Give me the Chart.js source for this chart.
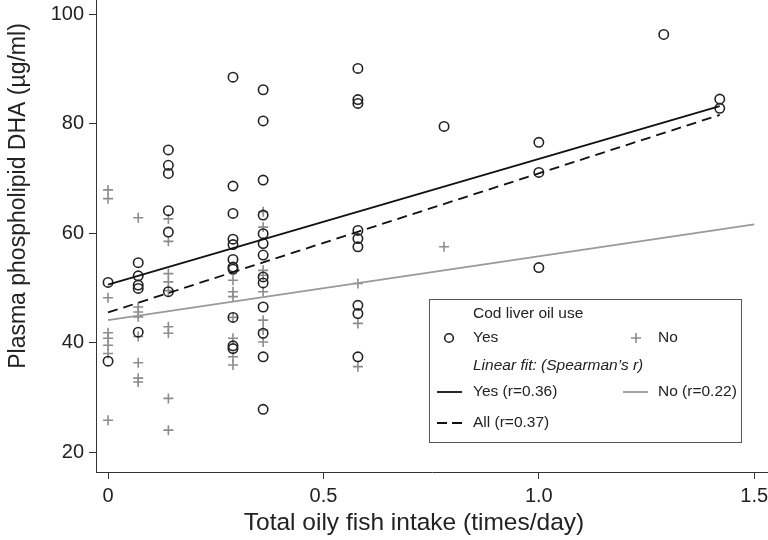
<!DOCTYPE html>
<html>
<head>
<meta charset="utf-8">
<script src="https://cdn.jsdelivr.net/npm/chart.js@4/dist/chart.umd.min.js"></script>
<style>
  html, body { margin: 0; padding: 0; background: #fff; }
  #wrap { width: 768px; height: 540px; position: relative; }
</style>
</head>
<body>
<div id="wrap"><canvas id="c" width="768" height="540"></canvas></div>
<script>
// ---- data ----
const xTicks = [0, 0.5, 1.0, 1.5];
const xTickLabels = ['0', '0.5', '1.0', '1.5'];
const yTicks = [20, 40, 60, 80, 100];
const yTickLabels = ['20', '40', '60', '80', '100'];

const xTitle = 'Total oily fish intake (times/day)';
const yTitle = 'Plasma phospholipid DHA (\u00b5g/ml)';

// Cod liver oil use: Yes (circles)
const yesX = [0, 0,
  0.07, 0.07, 0.07, 0.07, 0.07,
  0.14, 0.14, 0.14, 0.14, 0.14, 0.14,
  0.29, 0.29, 0.29, 0.29, 0.29, 0.29, 0.29, 0.29, 0.29, 0.29, 0.29,
  0.36, 0.36, 0.36, 0.36, 0.36, 0.36, 0.36, 0.36, 0.36, 0.36, 0.36, 0.36, 0.36,
  0.58, 0.58, 0.58, 0.58, 0.58, 0.58, 0.58, 0.58, 0.58,
  0.78,
  1.0, 1.0, 1.0,
  1.29,
  1.42, 1.42];
const yesY = [51.0, 36.6,
  54.6, 52.2, 50.5, 49.9, 41.9,
  75.2, 72.4, 70.9, 64.1, 60.2, 49.3,
  88.5, 68.6, 63.6, 58.9, 57.9, 55.2, 53.8, 53.4, 44.6, 39.4, 38.9,
  86.2, 80.5, 69.7, 63.3, 59.9, 58.1, 56.0, 52.0, 50.9, 46.5, 41.7, 37.4, 27.8,
  90.1, 84.4, 83.7, 60.5, 59.0, 57.5, 46.8, 45.3, 37.4,
  79.5,
  76.6, 71.1, 53.7,
  96.3,
  84.5, 82.8];

// Cod liver oil use: No (plus signs)
const noX = [0, 0, 0, 0, 0, 0, 0, 0,
  0.07, 0.07, 0.07, 0.07, 0.07, 0.07, 0.07, 0.07,
  0.14, 0.14, 0.14, 0.14, 0.14, 0.14, 0.14, 0.14, 0.14,
  0.29, 0.29, 0.29, 0.29, 0.29, 0.29, 0.29,
  0.36, 0.36, 0.36, 0.36, 0.36, 0.36, 0.36, 0.36,
  0.58, 0.58, 0.58,
  0.78];
const noY = [67.9, 66.3, 48.2, 41.8, 40.8, 39.5, 38.0, 25.8,
  62.8, 46.5, 45.6, 44.7, 41.1, 36.3, 33.5, 32.8,
  62.6, 58.5, 52.6, 51.1, 49.5, 42.9, 41.7, 29.8, 24.0,
  51.4, 49.3, 48.4, 44.6, 40.8, 37.4, 35.9,
  63.9, 61.1, 53.2, 52.3, 49.3, 44.1, 42.3, 40.1,
  50.8, 43.5, 35.6,
  57.5];

// Linear fit end points
const fitYesX = [0, 1.42];
const fitYesY = [50.6, 83.2];
const fitNoX = [0, 1.5];
const fitNoY = [44.1, 61.6];
const fitAllX = [0, 1.42];
const fitAllY = [45.5, 81.6];

const legendTitle = 'Cod liver oil use';
const legendFitTitle = 'Linear fit: (Spearman\u2019s r)';
const legendYes = 'Yes';
const legendNo = 'No';
const legendFitYes = 'Yes (r=0.36)';
const legendFitNo = 'No (r=0.22)';
const legendFitAll = 'All (r=0.37)';

// ---- build ----
const pts = (xs, ys) => xs.map((x, i) => ({ x: x, y: ys[i] }));
const FONT = '"Liberation Sans", Arial, Helvetica, sans-serif';
const GREY = '#8c8c8c';
const AXIS = '#333333';

const textPlugin = {
  id: 'textPlugin',
  afterDraw(chart) {
    const ctx = chart.ctx;
    ctx.save();
    ctx.fillStyle = '#222';
    // axis titles
    ctx.textAlign = 'center';
    ctx.textBaseline = 'middle';
    ctx.font = '24.5px ' + FONT;
    ctx.fillText(xTitle, 414, 523);
    ctx.font = '23px ' + FONT;
    ctx.save();
    ctx.translate(19, 196);
    ctx.rotate(-Math.PI / 2);
    ctx.fillText(yTitle, 0, 0);
    ctx.restore();

    // legend box
    const bx = 429, by = 299, bw = 312, bh = 143;
    ctx.fillStyle = '#fff';
    ctx.fillRect(bx, by, bw, bh);
    ctx.strokeStyle = '#555';
    ctx.lineWidth = 1;
    ctx.strokeRect(bx + 0.5, by + 0.5, bw, bh);

    ctx.fillStyle = '#222';
    ctx.textAlign = 'left';
    ctx.textBaseline = 'middle';
    ctx.font = '15.5px ' + FONT;
    const tx = 473;
    const r1 = 314, r2 = 338, r3 = 366, r4 = 392, r5 = 423;
    ctx.fillText(legendTitle, tx, r1);
    // symbols row
    ctx.beginPath();
    ctx.strokeStyle = '#222';
    ctx.lineWidth = 1.6;
    ctx.arc(449, r2, 4.3, 0, Math.PI * 2);
    ctx.stroke();
    ctx.fillText(legendYes, tx, r2);
    ctx.beginPath();
    ctx.strokeStyle = GREY;
    ctx.moveTo(631, r2); ctx.lineTo(641, r2);
    ctx.moveTo(636, r2 - 5); ctx.lineTo(636, r2 + 5);
    ctx.stroke();
    ctx.fillText(legendNo, 658, r2);
    // fit title (italic)
    ctx.font = 'italic 15.5px ' + FONT;
    ctx.fillText(legendFitTitle, tx, r3);
    ctx.font = '15.5px ' + FONT;
    // fit yes
    ctx.beginPath();
    ctx.strokeStyle = '#111';
    ctx.lineWidth = 1.8;
    ctx.moveTo(437, r4); ctx.lineTo(462, r4);
    ctx.stroke();
    ctx.fillText(legendFitYes, tx, r4);
    // fit no
    ctx.beginPath();
    ctx.strokeStyle = '#999';
    ctx.moveTo(623, r4); ctx.lineTo(648, r4);
    ctx.stroke();
    ctx.fillText(legendFitNo, 658, r4);
    // fit all (dashed)
    ctx.beginPath();
    ctx.strokeStyle = '#111';
    ctx.setLineDash([10, 5]);
    ctx.moveTo(437, r5); ctx.lineTo(463, r5);
    ctx.stroke();
    ctx.setLineDash([]);
    ctx.fillText(legendFitAll, tx, r5);
    ctx.restore();
  }
};

const zeroPad = (s) => { s.paddingLeft = 0; s.paddingRight = 0; s.paddingTop = 0; s.paddingBottom = 0; };

new Chart(document.getElementById('c'), {
  type: 'scatter',
  data: {
    datasets: [
      {
        label: 'No', data: pts(noX, noY), pointStyle: 'cross',
        pointRadius: 5, borderColor: GREY, borderWidth: 1.6,
        backgroundColor: GREY, pointHoverRadius: 5, order: 3
      },
      {
        label: 'Yes', data: pts(yesX, yesY), pointStyle: 'circle',
        pointRadius: 4.7, borderColor: '#222', borderWidth: 1.6,
        backgroundColor: 'rgba(0,0,0,0)', pointHoverRadius: 4.7, order: 2
      },
      {
        type: 'line', label: 'Yes (r=0.36)', data: pts(fitYesX, fitYesY),
        borderColor: '#111', borderWidth: 1.8, pointRadius: 0, fill: false, order: 1
      },
      {
        type: 'line', label: 'No (r=0.22)', data: pts(fitNoX, fitNoY),
        borderColor: '#999', borderWidth: 1.8, pointRadius: 0, fill: false, order: 1
      },
      {
        type: 'line', label: 'All (r=0.37)', data: pts(fitAllX, fitAllY),
        borderColor: '#111', borderWidth: 1.8, borderDash: [10, 6],
        pointRadius: 0, fill: false, order: 1
      }
    ]
  },
  options: {
    responsive: false,
    animation: false,
    devicePixelRatio: 1,
    layout: { padding: 0, autoPadding: false },
    plugins: { legend: { display: false }, tooltip: { enabled: false } },
    scales: {
      x: {
        type: 'linear', min: -0.028, max: 1.532,
        afterBuildTicks: (s) => { s.ticks = xTicks.map(v => ({ value: v })); },
        afterFit: (s) => { s.height = 68; zeroPad(s); },
        ticks: {
          autoSkip: false, maxRotation: 0, padding: 5,
          color: '#222', font: { family: FONT, size: 20 },
          callback: (v) => xTickLabels[xTicks.indexOf(v)]
        },
        grid: { drawOnChartArea: false, tickLength: 7, color: AXIS, tickWidth: 1 },
        border: { display: true, color: AXIS, width: 1 }
      },
      y: {
        type: 'linear', min: 16.35, max: 102.6,
        afterBuildTicks: (s) => { s.ticks = yTicks.map(v => ({ value: v })); },
        afterFit: (s) => { s.width = 96; zeroPad(s); },
        ticks: {
          autoSkip: false, padding: 5,
          color: '#222', font: { family: FONT, size: 20 },
          callback: (v) => yTickLabels[yTicks.indexOf(v)]
        },
        grid: { drawOnChartArea: false, tickLength: 7, color: AXIS, tickWidth: 1 },
        border: { display: true, color: AXIS, width: 1 }
      }
    }
  },
  plugins: [textPlugin]
});
</script>
</body>
</html>
